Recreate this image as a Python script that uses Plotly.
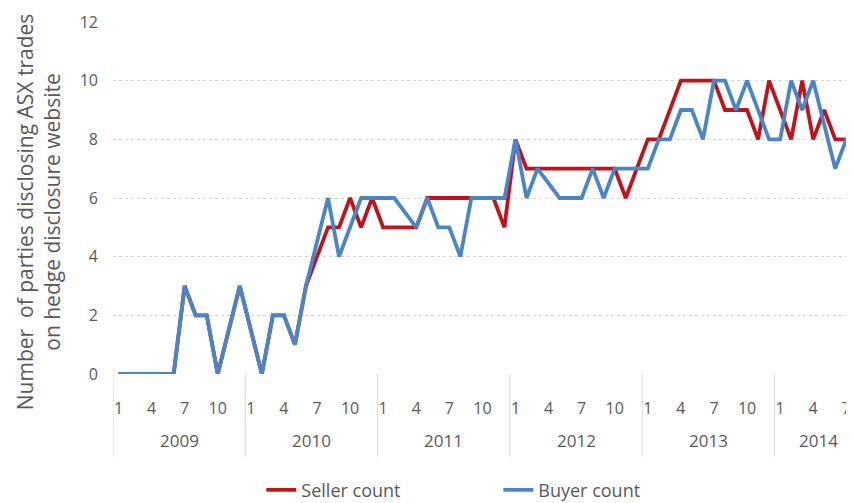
import plotly.graph_objects as go

# monthly observations, Jan 2009 .. Aug 2014
years = [2009, 2010, 2011, 2012, 2013, 2014]
months_per_year = [12, 12, 12, 12, 12, 8]
month_ticks = [1, 4, 7, 10]

seller_count = [
    0, 0, 0, 0, 0, 0, 3, 2, 2, 0, 1.5, 3,        # 2009
    1.5, 0, 2, 2, 1, 3, 4, 5, 5, 6, 5, 6,        # 2010
    5, 5, 5, 5, 6, 6, 6, 6, 6, 6, 6, 5,          # 2011
    8, 7, 7, 7, 7, 7, 7, 7, 7, 7, 6, 7,          # 2012
    8, 8, 9, 10, 10, 10, 10, 9, 9, 9, 8, 10,     # 2013
    9, 8, 10, 8, 9, 8, 8, 7,                     # 2014
]
buyer_count = [
    0, 0, 0, 0, 0, 0, 3, 2, 2, 0, 1.5, 3,        # 2009
    1.5, 0, 2, 2, 1, 3, 4.5, 6, 4, 5, 6, 6,      # 2010
    6, 6, 5.5, 5, 6, 5, 5, 4, 6, 6, 6, 6,        # 2011
    8, 6, 7, 6.5, 6, 6, 6, 7, 6, 7, 7, 7,        # 2012
    7, 8, 8, 9, 9, 8, 10, 10, 9, 10, 9, 8,       # 2013
    8, 10, 9, 10, 8.5, 7, 8, 8,                  # 2014
]

# build category positions
year_of, month_of = [], []
for y, n in zip(years, months_per_year):
    for m in range(1, n + 1):
        year_of.append(y)
        month_of.append(m)
idx = list(range(len(month_of)))

grey = '#595959'
font = 'Open Sans'

fig = go.Figure()
fig.add_trace(go.Scatter(x=idx, y=seller_count, mode='lines', name='Seller count',
                         line=dict(color='#C0131C', width=3.8)))
fig.add_trace(go.Scatter(x=idx, y=buyer_count, mode='lines', name='Buyer count',
                         line=dict(color='#4A85C6', width=3.8)))

tickvals = [i for i in idx if month_of[i] in month_ticks]
ticktext = [str(month_of[i]) for i in tickvals]

# year labels and group dividers
start = 0
for y, n in zip(years, months_per_year):
    fig.add_annotation(x=start + (n - 1) / 2, y=-0.1875, xref='x', yref='paper',
                       yanchor='middle', text=str(y), showarrow=False,
                       font=dict(size=17, color=grey, family=font))
    fig.add_shape(type='line', x0=start - 0.5, x1=start - 0.5, y0=0, y1=-0.235,
                  xref='x', yref='paper', line=dict(color='#d9d9d9', width=1))
    start += n

fig.add_annotation(x=-0.101, y=0.46, xref='paper', yref='paper', textangle=-90,
                   xanchor='center', yanchor='middle',
                   text='Number  of parties disclosing ASX trades<br>on hedge disclosure website',
                   showarrow=False, font=dict(size=21, color=grey, family=font))

fig.update_xaxes(range=[-0.5, 66.7], tickvals=tickvals, ticktext=ticktext,
                 showgrid=False, zeroline=False, showline=False, ticks='',
                 ticklabelstandoff=23, automargin=False,
                 tickfont=dict(size=16, color=grey, family=font))
fig.update_yaxes(range=[0, 12], dtick=2, showgrid=True, gridcolor='#d4d4d4',
                 griddash='dot', gridwidth=1.3, zeroline=False, showline=False,
                 ticklabelstandoff=14, automargin=False,
                 tickfont=dict(size=16, color=grey, family=font))

# page body adds 8px offset, so the figure is drawn 8px smaller
fig.update_layout(
    width=846, height=495,
    margin=dict(l=105, r=0, t=14, b=129, autoexpand=False),
    plot_bgcolor='white', paper_bgcolor='white',
    legend=dict(orientation='h', x=0.52, y=-0.33, xanchor='center', yanchor='middle',
                entrywidth=192, entrywidthmode='pixels',
                font=dict(size=18, color=grey, family=font)),
)

fig.write_html('out.html')
